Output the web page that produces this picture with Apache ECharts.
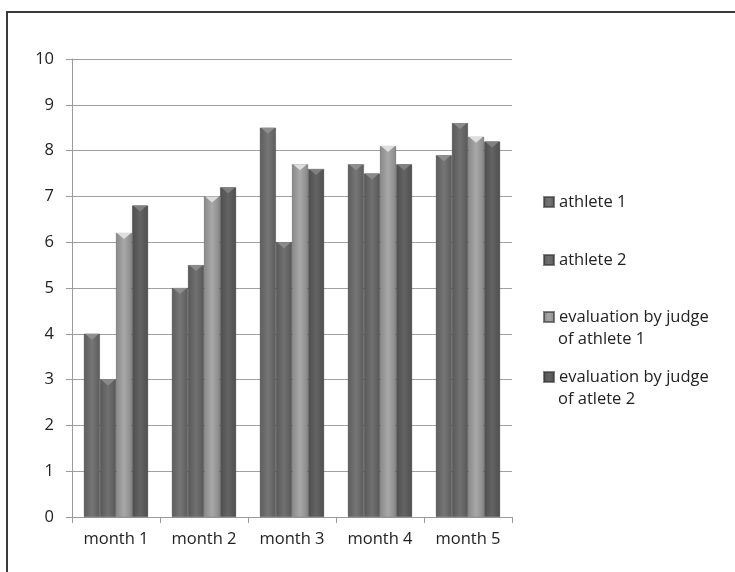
<!DOCTYPE html>
<html>
<head>
<meta charset="utf-8">
<script src="https://cdn.jsdelivr.net/npm/echarts@6/dist/echarts.min.js"></script>
<style>
html,body{margin:0;padding:0;background:#fff;}
#c{width:735px;height:572px;}
</style>
</head>
<body>
<div id="c"></div>
<script>
var categories = ['month 1', 'month 2', 'month 3', 'month 4', 'month 5'];
var seriesNames = ['athlete 1', 'athlete 2', 'evaluation by judge of athlete 1', 'evaluation by judge of atlete 2'];
var athlete1 = [4, 5, 8.5, 7.7, 7.9];
var athlete2 = [3, 5.5, 6, 7.5, 8.6];
var judgeAthlete1 = [6.2, 7, 7.7, 8.1, 8.3];
var judgeAthlete2 = [6.8, 7.2, 7.6, 7.7, 8.2];
var yTicks = [0, 1, 2, 3, 4, 5, 6, 7, 8, 9, 10];

var allData = [athlete1, athlete2, judgeAthlete1, judgeAthlete2];
var baseColors = [
  ['#5c5c5c', '#767676', '#5c5c5c'],
  ['#585858', '#707070', '#585858'],
  ['#888888', '#a8a8a8', '#888888'],
  ['#4e4e4e', '#646464', '#4e4e4e']
];
var capColors = ['#8e8e8e', '#8a8a8a', '#dedede', '#808080'];

function grad(c) {
  return new echarts.graphic.LinearGradient(0, 0, 1, 0, [
    {offset: 0, color: c[0]},
    {offset: 0.5, color: c[1]},
    {offset: 1, color: c[2]}
  ]);
}

var FONT = 'Open Sans';
var FS = 16.5;
var series = [];
allData.forEach(function (d, i) {
  series.push({
    name: seriesNames[i],
    type: 'bar',
    data: d,
    barGap: '0%',
    barCategoryGap: '27%',
    itemStyle: {color: grad(baseColors[i]), borderColor: 'rgba(50,50,50,0.6)', borderWidth: 0.5},
    emphasis: {disabled: true}
  });
});
allData.forEach(function (d, i) {
  series.push({
    name: 'cap' + i,
    type: 'pictorialBar',
    data: d,
    barGap: '0%',
    barCategoryGap: '27%',
    symbol: 'path://M0,0 L10,0 L5,4 Z',
    symbolSize: ['88%', 6],
    symbolPosition: 'end',
    symbolOffset: [0, 0],
    z: 5,
    itemStyle: {color: capColors[i]},
    silent: true
  });
});

var legendTops = [191, 249, 306, 366];
var legendText = ['athlete 1', 'athlete 2', 'evaluation by judge', 'evaluation by judge'];
var secondLines = ['', '', 'of athlete 1', 'of atlete 2'];
var legends = seriesNames.map(function (n, i) {
  return {
    data: [n],
    left: 543,
    top: legendTops[i],
    orient: 'vertical',
    padding: 0,
    itemWidth: 10,
    itemHeight: 10,
    itemGap: 0,
    icon: 'rect',
    selectedMode: false,
    formatter: function () { return legendText[i]; },
    textStyle: {fontFamily: FONT, fontSize: FS, color: '#222', lineHeight: 22}
  };
});

var graphics = [
  {type: 'line', shape: {x1: 6, y1: 12, x2: 735, y2: 12}, style: {stroke: '#3a3a3a', lineWidth: 2}},
  {type: 'line', shape: {x1: 7, y1: 11, x2: 7, y2: 572}, style: {stroke: '#3a3a3a', lineWidth: 2}}
];
secondLines.forEach(function (t, i) {
  if (!t) return;
  graphics.push({
    type: 'text', left: 558, top: legendTops[i] + 22,
    style: {text: t, fontFamily: FONT, fontSize: FS, fill: '#222', lineHeight: 22}
  });
});

var chart = echarts.init(document.getElementById('c'), null, {renderer: 'canvas'});
chart.setOption({
  animation: false,
  backgroundColor: '#fff',
  legend: legends,
  graphic: graphics,
  grid: {left: 72, right: 223, top: 59, bottom: 55, containLabel: false},
  xAxis: {
    type: 'category',
    data: categories,
    axisLine: {lineStyle: {color: '#9a9a9a', width: 1}},
    axisTick: {show: true, length: 6, lineStyle: {color: '#9a9a9a'}},
    axisLabel: {fontFamily: FONT, fontSize: FS, color: '#222', margin: 14}
  },
  yAxis: {
    type: 'value',
    min: yTicks[0],
    max: yTicks[yTicks.length - 1],
    interval: 1,
    axisLine: {show: true, lineStyle: {color: '#9a9a9a', width: 1}},
    axisTick: {show: true, length: 6, lineStyle: {color: '#9a9a9a'}},
    splitLine: {lineStyle: {color: '#a0a0a0', width: 1}},
    axisLabel: {fontFamily: FONT, fontSize: FS, color: '#222', margin: 18}
  },
  series: series
});
</script>
</body>
</html>
